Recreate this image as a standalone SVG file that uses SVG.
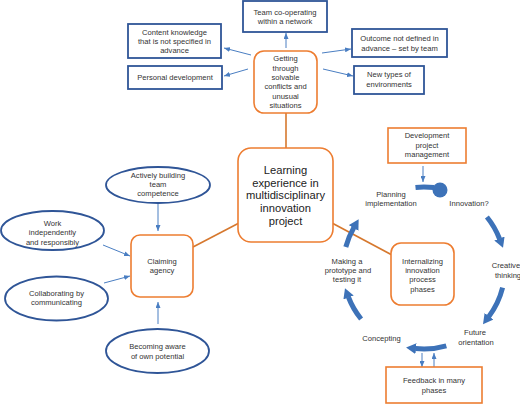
<svg xmlns="http://www.w3.org/2000/svg" width="520" height="404" viewBox="0 0 520 404">
<style>
text{font-family:"Liberation Sans",Arial,sans-serif;font-size:7.6px;fill:#333;text-anchor:middle}
.big{font-size:11.2px;fill:#222}
.bbox{fill:#fff;stroke:#2F5597;stroke-width:1.8}
.obox{fill:#fff;stroke:#ED7D31;stroke-width:1.6}
.ell{fill:#fff;stroke:#2F5597;stroke-width:1.8}
.thin{stroke:#4A7EC2;stroke-width:1;fill:none;marker-end:url(#ah)}
.thick{stroke:#3D72B8;stroke-width:5;fill:none;marker-end:url(#bh)}
.oline{stroke:#D6782E;stroke-width:1.6;fill:none}
</style>
<defs>
<marker id="ah" markerUnits="userSpaceOnUse" markerWidth="6" markerHeight="5" viewBox="0 0 6 5" refX="6" refY="2.5" orient="auto"><path d="M0,0 L6,2.5 L0,5 z" fill="#4A7EC2"/></marker>
<marker id="bh" markerUnits="userSpaceOnUse" markerWidth="10" markerHeight="11" viewBox="0 0 10 11" refX="0.5" refY="5.5" orient="auto"><path d="M0,0 L10,5.5 L0,11 z" fill="#3D72B8"/></marker>
</defs>
<rect width="520" height="404" fill="#fff"/>
<g id="connectors">
<path class="oline" d="M286,113 L286,148"/>
<path class="oline" d="M239,223 L193,247"/>
<path class="oline" d="M332,223 L392,255"/>
<path class="thin" d="M251,55 L224,48"/>
<path class="thin" d="M248,69 L224,76"/>
<path class="thin" d="M286,48 L286,33"/>
<path class="thin" d="M322,53 L351,49"/>
<path class="thin" d="M323,69 L353,76"/>
<path class="thin" d="M423,166 L423,182"/>
<path class="thin" d="M158,203 L158,231"/>
<path class="thin" d="M103,245 L130,256"/>
<path class="thin" d="M104,283 L130,276"/>
<path class="thin" d="M158,324 L158,302"/>
<path class="thin" d="M422,353 L422,367"/>
<path class="thin" d="M434,367 L434,353"/>
<path class="thick" d="M345.8,247 A81,81 0 0 1 353.9,227.5"/>
<path class="thick" style="marker-end:none" d="M415.5,187.4 A81,81 0 0 1 434,187.6"/>
<circle cx="440" cy="190" r="7.5" fill="#3D72B8"/>
<path class="thick" d="M486.9,217 A81,81 0 0 1 499.6,239"/>
<path class="thick" d="M502.6,287.6 A81,81 0 0 1 488.7,316.7"/>
<path class="thick" d="M446.3,345.9 A81,81 0 0 1 415.5,348.6"/>
<path class="thick" d="M361.1,319 A81,81 0 0 1 348.4,297"/>
</g>
<g id="team"><rect class="bbox" x="243" y="1" width="84" height="31"/><text x="285" y="14.5">Team co-operating</text><text x="285" y="23.5">within a network</text></g>
<g id="content"><rect class="bbox" x="128" y="24" width="93" height="34"/><text x="174.5" y="34.7">Content knowledge</text><text x="174.5" y="44">that is not specified in</text><text x="174.5" y="53.3">advance</text></g>
<g id="personal"><rect class="bbox" x="128" y="66" width="94" height="23"/><text x="175" y="80">Personal development</text></g>
<g id="outcome"><rect class="bbox" x="352" y="29" width="95" height="28"/><text x="399.5" y="41.4">Outcome not defined in</text><text x="399.5" y="50.7">advance – set by team</text></g>
<g id="newtypes"><rect class="bbox" x="354" y="66" width="70" height="28"/><text x="389" y="77.4">New types of</text><text x="389" y="87">environments</text></g>
<g id="getting"><rect class="obox" x="254" y="51" width="63" height="62" rx="10"/><text x="285.5" y="61.4">Getting</text><text x="285.5" y="70.7">through</text><text x="285.5" y="80">solvable</text><text x="285.5" y="89.4">conflicts and</text><text x="285.5" y="98.7">unusual</text><text x="285.5" y="108">situations</text></g>
<g id="central"><rect class="obox" x="238" y="148" width="95" height="94" rx="13"/><text class="big" x="285.5" y="174">Learning</text><text class="big" x="285.5" y="186.7">experience in</text><text class="big" x="285.5" y="199.4">multidisciplinary</text><text class="big" x="285.5" y="212.2">innovation</text><text class="big" x="285.5" y="225">project</text></g>
<g id="actively"><ellipse class="ell" cx="158" cy="185" rx="52" ry="18"/><text x="158" y="177.7">Actively building</text><text x="158" y="187">team</text><text x="158" y="196">competence</text></g>
<g id="work"><ellipse class="ell" cx="52.5" cy="230.5" rx="51.5" ry="19.5"/><text x="52.5" y="226">Work</text><text x="52.5" y="235.4">independently</text><text x="52.5" y="244.7">and responsibly</text></g>
<g id="claiming"><rect class="obox" x="131" y="235" width="62" height="62" rx="9"/><text x="162" y="264">Claiming</text><text x="162" y="273.4">agency</text></g>
<g id="collaborating"><ellipse class="ell" cx="56.5" cy="298.5" rx="51.5" ry="22"/><text x="56.5" y="296">Collaborating by</text><text x="56.5" y="305.4">communicating</text></g>
<g id="becoming"><ellipse class="ell" cx="157.5" cy="351" rx="51.5" ry="22"/><text x="157.5" y="349.4">Becoming aware</text><text x="157.5" y="358.7">of own potential</text></g>
<g id="devproj"><rect class="obox" x="388" y="128" width="78" height="35"/><text x="427" y="138.4">Development</text><text x="427" y="147.7">project</text><text x="427" y="156.7">management</text></g>
<g id="planning"><text x="391" y="197">Planning</text><text x="391" y="206.4">implementation</text></g>
<g id="innovation"><text x="469" y="206">Innovation?</text></g>
<g id="creative"><text x="506" y="267.7">Creative</text><text x="508" y="277.7">thinking</text></g>
<g id="future"><text x="475" y="335.4">Future</text><text x="476" y="344.7">orientation</text></g>
<g id="concepting"><text x="381.5" y="341.4">Concepting</text></g>
<g id="making"><text x="347" y="263.7">Making a</text><text x="348" y="272.7">prototype and</text><text x="347" y="281.7">testing it</text></g>
<g id="internalizing"><rect class="obox" x="391" y="243" width="63" height="62" rx="10"/><text x="422.5" y="263.7">Internalizing</text><text x="422.5" y="273">innovation</text><text x="422.5" y="282.4">process</text><text x="422.5" y="291.7">phases</text></g>
<g id="feedback"><rect class="obox" x="386" y="367" width="96" height="36"/><text x="434" y="383.4">Feedback in many</text><text x="434" y="392.7">phases</text></g>
</svg>
